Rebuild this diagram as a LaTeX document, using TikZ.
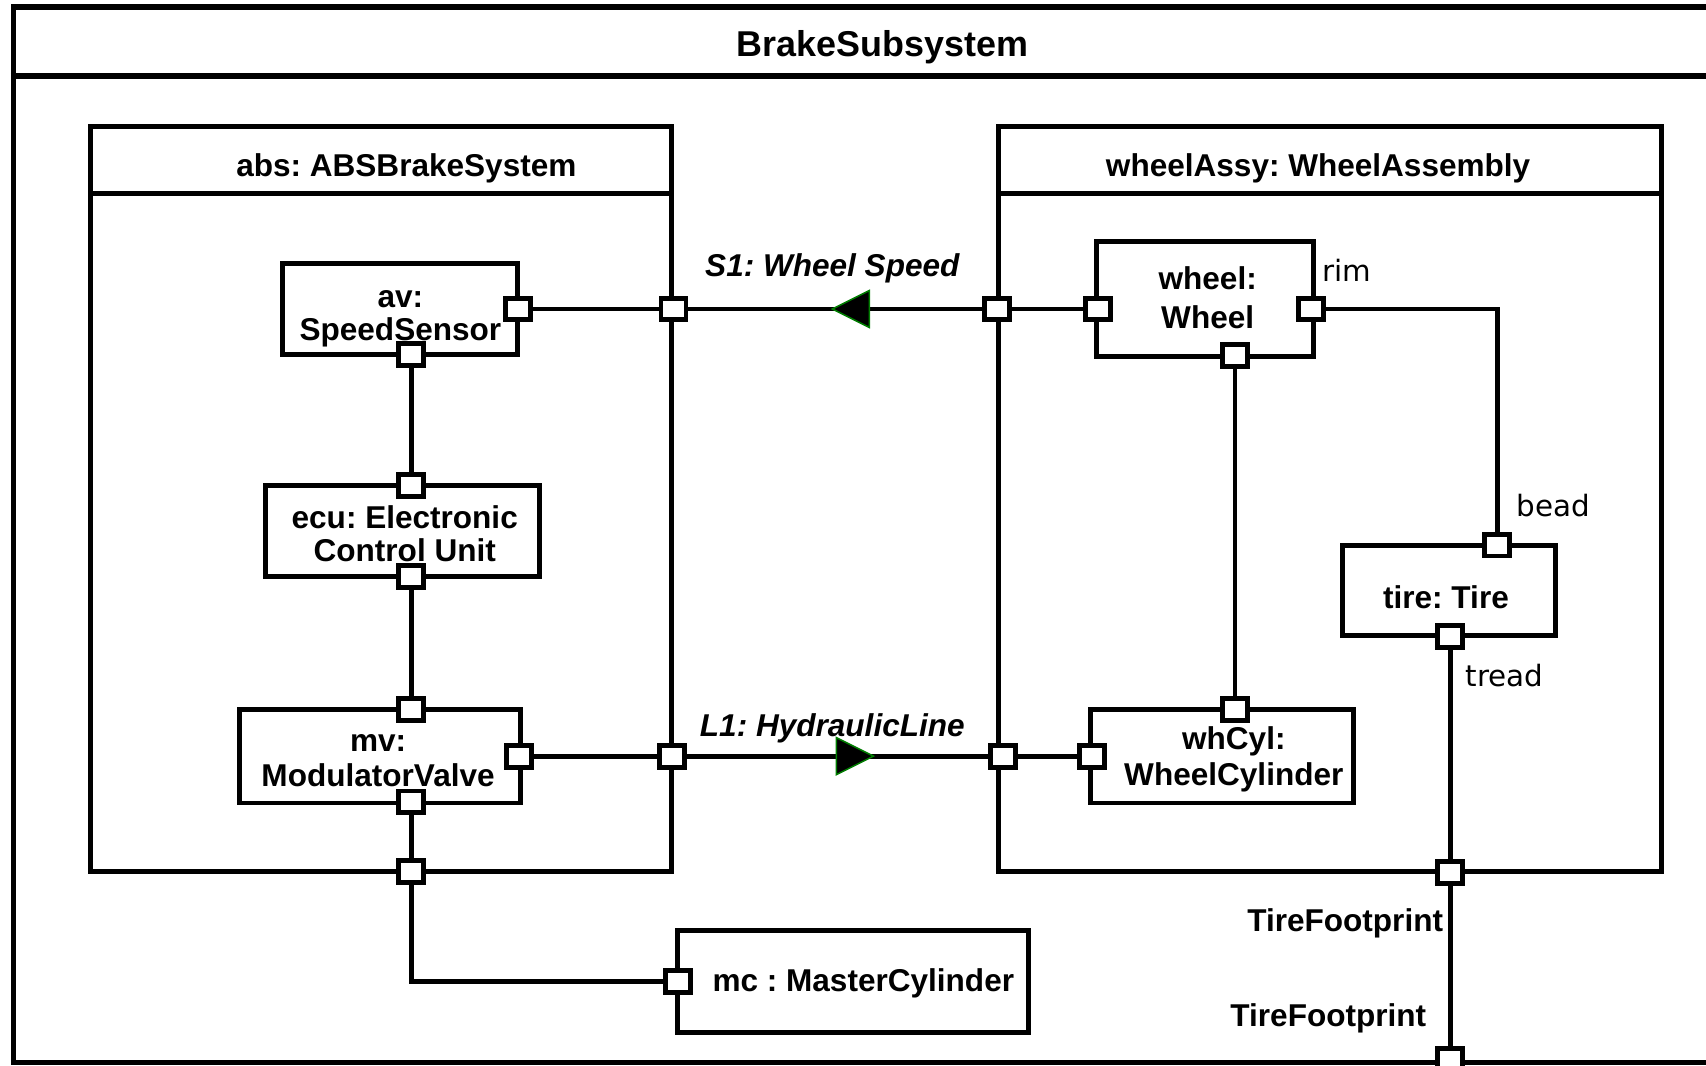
\documentclass[tikz,border=0pt]{standalone}
\usepackage{fontspec}
\setmainfont{Liberation Sans}
\newfontfamily\portfont{DejaVu Sans}
\usetikzlibrary{decorations.markings}
\pgfdeclarelayer{wires}
\pgfsetlayers{wires,main}
\definecolor{tipgreen}{RGB}{0,125,0}
\frenchspacing

% two centred lines whose last baseline is the node's base
\newcommand\stacktwo[3]{\fontsize{29}{#1}\selectfont\begin{tabular}[b]{@{}c@{}}#2\\#3\end{tabular}}

\begin{document}
\begin{tikzpicture}[
  x=1pt, y=-1pt,
  frameline/.style={line width=5pt},
  framebox/.style={draw, frameline, inner sep=0pt},
  boxline/.style={line width=4.5pt},
  block/.style={draw, boxline, inner sep=0pt},
  port/.style={draw, fill=white, line width=4.5pt, minimum width=23pt, minimum height=20pt, inner sep=0pt},
  wire/.style={line width=4.4pt},
  bigtitle/.style={font=\fontsize{33}{34}\selectfont\bfseries, inner sep=0pt, anchor=base},
  plabel/.style={font=\fontsize{29}{30}\selectfont\bfseries, inner sep=0pt, anchor=base},
  role/.style={font=\portfont\fontsize{27}{28}\selectfont, inner sep=0pt, anchor=base west},
  flowname/.style={font=\fontsize{29}{30}\selectfont\bfseries\itshape, inner sep=0pt, anchor=base},
  flowtip/.style 2 args={postaction={decorate}, decoration={markings,
      mark=at position 0.5 with {\filldraw[fill=black, draw=tipgreen, line width=1.4pt]
        (#1,0pt) -- (#2,-17pt) -- (#2,17pt) -- cycle;}}}
]
\useasboundingbox (0,0) rectangle (1568,979);
\clip (0,0) rectangle (1568,979);

% enclosing block
\node[framebox, minimum width=1610pt, minimum height=970pt, anchor=north west] (brake) at (10,4) {};
\draw[frameline] (10,70) -- (1620,70);
\node[bigtitle] (brake-title) at (811,52) {BrakeSubsystem};

% the two composite parts
\node[block, minimum width=534pt, minimum height=685pt] (abs) at (350,458.5) {};
\draw[boxline] (83,178) -- (617,178);
\node[plabel] (abs-title) at (373.5,162) {abs: ABSBrakeSystem};

\node[block, minimum width=609pt, minimum height=685pt] (wa) at (1222.5,458.5) {};
\draw[boxline] (918,178) -- (1527,178);
\node[plabel] (wa-title) at (1211.5,162) {wheelAssy: WheelAssembly};

% inner parts
\node[block, minimum width=216pt, minimum height=84pt] (av) at (368,284) {};
\node[block, minimum width=252pt, minimum height=84pt] (ecu) at (370,488) {};
\node[block, minimum width=258pt, minimum height=86pt] (mv) at (349,695) {};
\node[block, minimum width=199pt, minimum height=106pt] (wheel) at (1107.5,275) {};
\node[block, minimum width=242pt, minimum height=86pt] (whcyl) at (1123,695) {};
\node[block, minimum width=195.5pt, minimum height=83pt] (tire) at (1332,542.5) {};
\node[block, minimum width=322pt, minimum height=94pt] (mc) at (784,902) {};

% part names
\node[plabel] (av-name) at (368,313) {\stacktwo{30}{av:}{SpeedSensor}};
\node[plabel] (ecu-name) at (372,516) {\stacktwo{30.5}{ecu: Electronic}{Control Unit}};
\node[plabel] (mv-name) at (347.5,723) {\stacktwo{32}{mv:}{ModulatorValve}};
\node[plabel] (wheel-name) at (1110,302) {\stacktwo{36}{wheel:}{Wheel}};
\node[plabel] (whcyl-name) at (1134,721.5) {\stacktwo{32.5}{whCyl:}{WheelCylinder}};
\node[plabel] (tire-name) at (1329,559) {tire: Tire};
\node[plabel] (mc-name) at (793.5,911.5) {mc : MasterCylinder};

% connector names and port roles
\node[flowname] (s1-name) at (765,254) {S1: Wheel Speed};
\node[flowname] (l1-name) at (765,676.5) {L1: HydraulicLine};
\node[role] (rim) at (1215,259) {rim};
\node[role] (bead) at (1394,475) {bead};
\node[role] (tread) at (1347,631) {tread};
\node[plabel, anchor=base east] (fp-inner) at (1326.5,856) {TireFootprint};
\node[plabel, anchor=base east] (fp-outer) at (1311,943.5) {TireFootprint};

% ports
\node[port] (av_r) at (476,284) {};
\node[port] (av_b) at (378,326) {};
\node[port] (ecu_t) at (378,446) {};
\node[port] (ecu_b) at (378,530) {};
\node[port] (mv_t) at (378,652) {};
\node[port] (mv_r) at (477,695) {};
\node[port] (mv_b) at (378,737) {};
\node[port] (abs_s) at (619,284) {};
\node[port] (abs_l) at (617.5,695) {};
\node[port] (abs_b) at (378,801) {};
\node[port] (mc_l) at (623,902) {};
\node[port] (wa_s) at (916,284) {};
\node[port] (wa_l) at (922,695) {};
\node[port] (wa_b) at (1333,802) {};
\node[port] (wheel_l) at (1009,284) {};
\node[port] (wheel_r) at (1205,284) {};
\node[port] (wheel_b) at (1135,327) {};
\node[port] (whcyl_t) at (1135,652) {};
\node[port] (whcyl_l) at (1003.5,695) {};
\node[port] (tire_t) at (1376,501) {};
\node[port] (tire_b) at (1333,585) {};
\node[port] (brake_b) at (1333,974) {};

% connectors
\begin{pgfonlayer}{wires}
  \draw[wire] (av_r.center) -- (abs_s.center);
  \draw[wire, flowtip={2.5pt}{-31.5pt}] (wa_s.center) -- (abs_s.center);
  \draw[wire] (wa_s.center) -- (wheel_l.center);
  \draw[wire] (av_b.center) -- (ecu_t.center);
  \draw[wire] (ecu_b.center) -- (mv_t.center);
  \draw[wire] (mv_r.center) -- (abs_l.center);
  \draw[wire, flowtip={33pt}{-1pt}] (abs_l.center) -- (wa_l.center);
  \draw[wire] (wa_l.center) -- (whcyl_l.center);
  \draw[wire] (mv_b.center) -- (abs_b.center);
  \draw[wire] (abs_b.center) |- (mc_l.center);
  \draw[wire] (wheel_b.center) -- (whcyl_t.center);
  \draw[wire] (wheel_r.center) -| (tire_t.center);
  \draw[wire] (tire_b.center) -- (wa_b.center) -- (brake_b.center);
\end{pgfonlayer}
\end{tikzpicture}
\end{document}
